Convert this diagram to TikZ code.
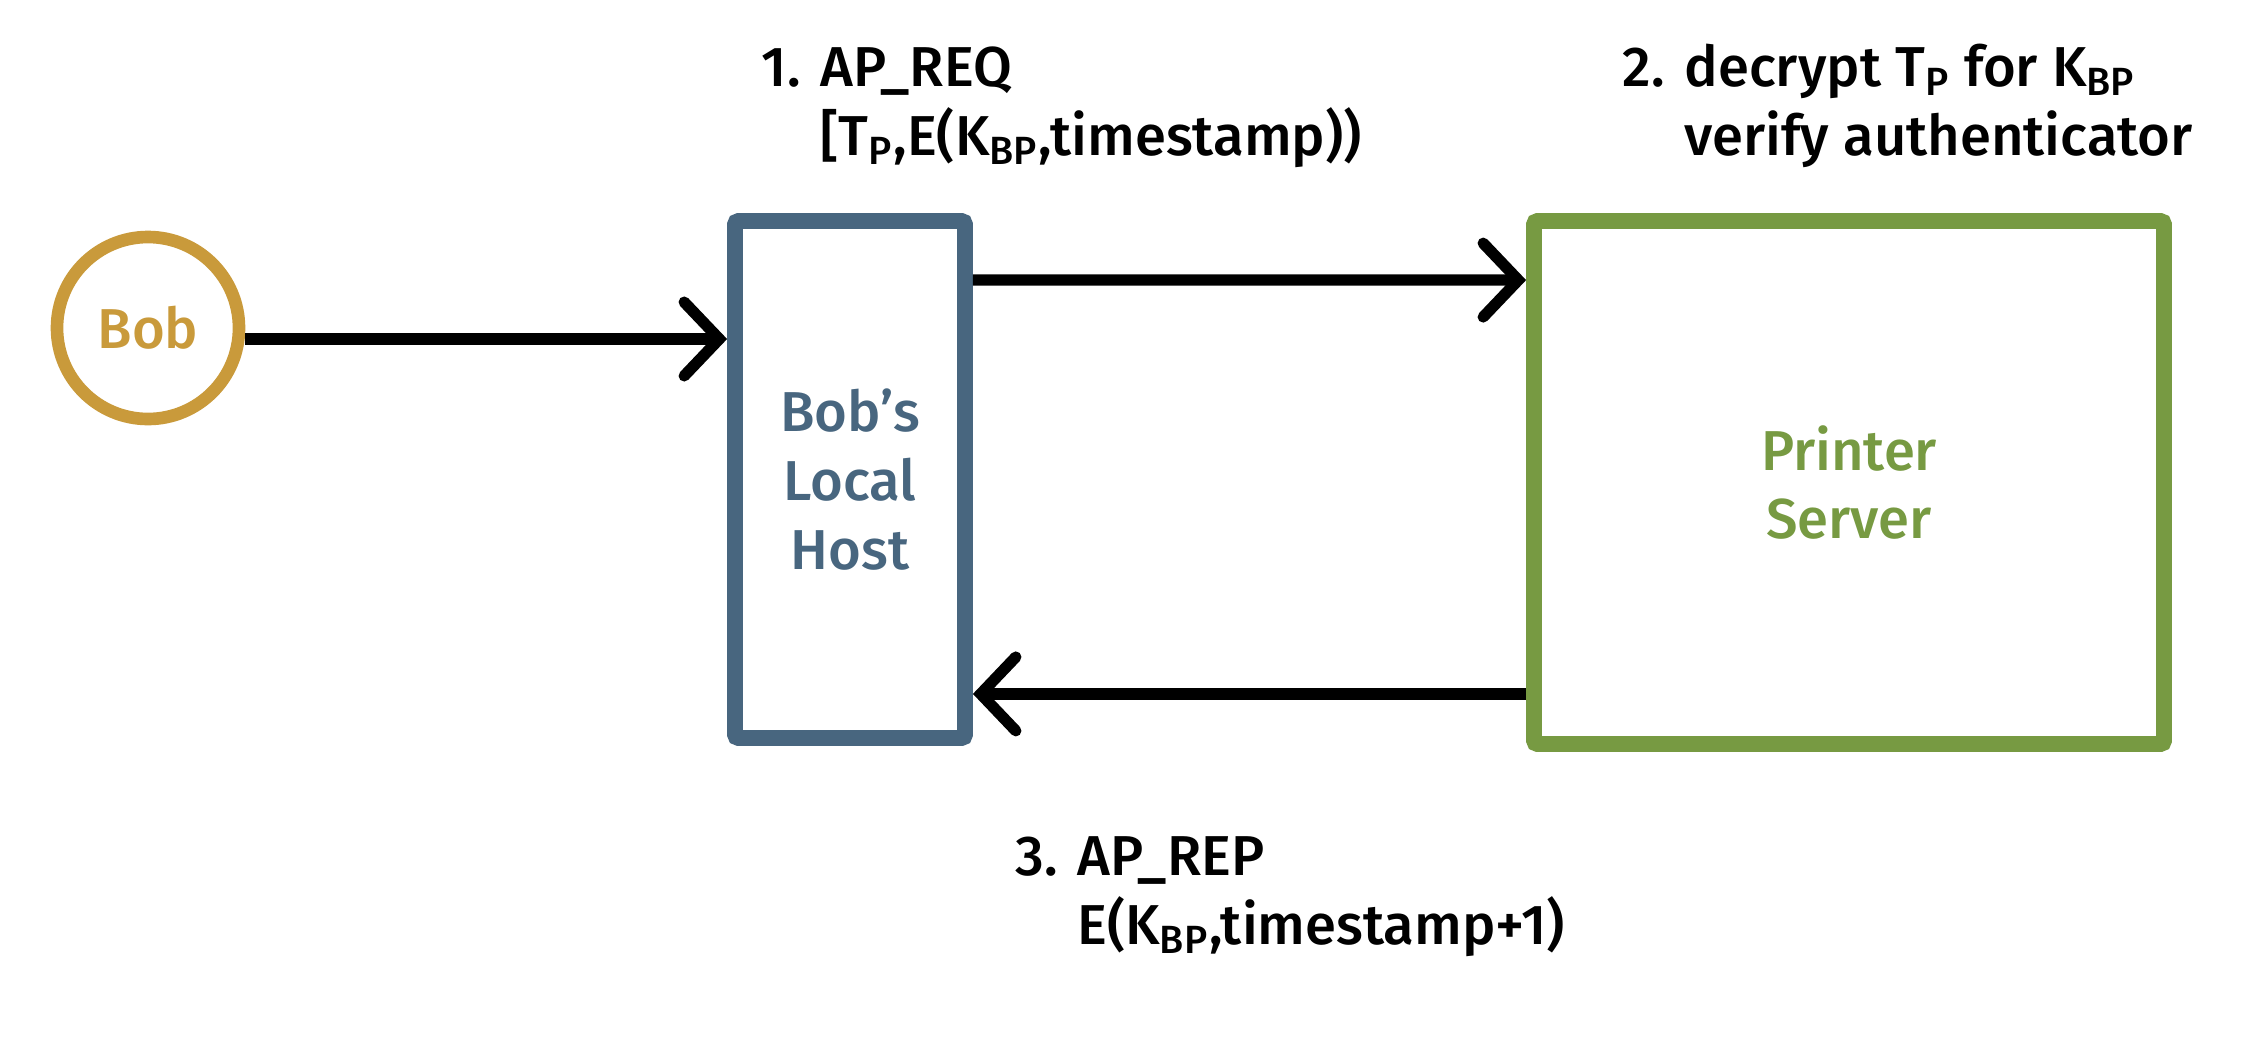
\documentclass[tikz,border=0pt]{standalone}
\usepackage{fontspec}
\setmainfont{Fira Sans}[UprightFont=* Medium]
\usetikzlibrary{positioning,arrows.meta}
\definecolor{bobgold}{HTML}{C99A3B}
\definecolor{hostblue}{HTML}{48667F}
\definecolor{srvgreen}{HTML}{779A42}
\tikzset{
	actor/.style={circle,draw=bobgold,text=bobgold,line width=3.6pt,minimum size=1.82cm},
	machine/.style={rectangle,rounded corners=1pt,line width=4.5pt,align=center},
	msg/.style={-{Straight Barb[length=10pt,width=21pt,line cap=round]},line width=3.2pt},
	note/.style={inner sep=0pt}
}

\begin{document}
\begin{tikzpicture}[font=\fontsize{16}{19.6}\selectfont]
	\useasboundingbox (0,0) rectangle (22.58,10.38);
	\node[actor] (bob) at (1.48,7.10) {Bob};
	\node[machine,draw=hostblue,text=hostblue,minimum width=2.30cm,minimum height=5.17cm] (host) at (8.50,5.585) {Bob's\\Local\\Host};
	\node[machine,draw=srvgreen,text=srvgreen,minimum width=6.30cm,minimum height=5.23cm] (printer) at (18.49,5.555) {Printer\\Server};
	% message labels
	\node[note,anchor=south west,above right=3.6mm and 3.4mm of host.north west] (req) {\begin{tabular}{@{}l@{\hspace{0.35em}}l@{}}1. & AP\_REQ\\ & [T\textsubscript{P},E(K\textsubscript{BP},timestamp))\end{tabular}};
	\node[note,anchor=south west,above right=3.6mm and 9.6mm of printer.north west] (dec) {\begin{tabular}{@{}l@{\hspace{0.35em}}l@{}}2. & decrypt T\textsubscript{P} for K\textsubscript{BP}\\ & verify authenticator\end{tabular}};
	\node[note,anchor=north west,below right=8.1mm and 4.2mm of host.south east] (rep) {\begin{tabular}{@{}l@{\hspace{0.35em}}l@{}}3. & AP\_REP\\ & E(K\textsubscript{BP},timestamp+1)\end{tabular}};
	% messages
	\draw[msg] ([yshift=-1.1mm]bob.east) -- ([yshift=-1.1mm]bob.east -| host.west);
	\draw[msg] ([yshift=-6.7mm]host.north east) -- ([yshift=-6.7mm]printer.north west);
	\draw[msg] ([yshift=5.2mm]host.south east -| printer.west) -- ([yshift=5.2mm]host.south east);
\end{tikzpicture}
\end{document}
